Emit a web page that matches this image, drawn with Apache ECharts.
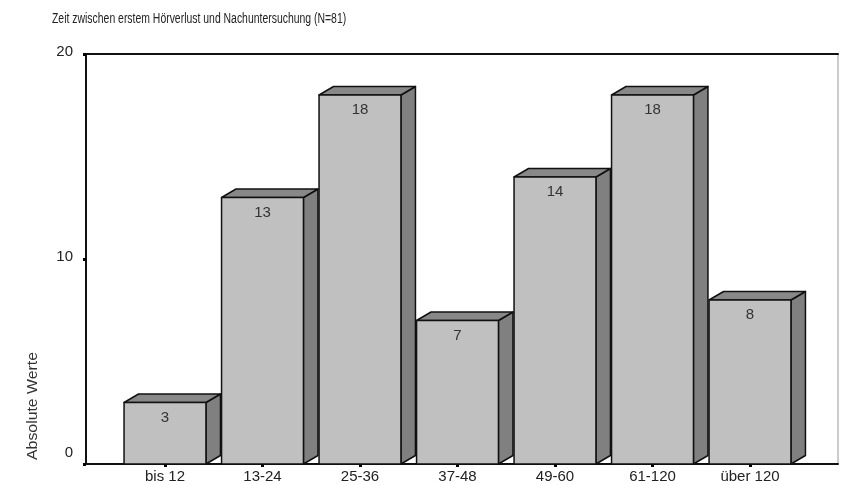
<!DOCTYPE html>
<html><head><meta charset="utf-8">
<script src="https://cdn.jsdelivr.net/npm/echarts@6/dist/echarts.min.js"></script>
<style>html,body{margin:0;padding:0;background:#fff}#c{width:844px;height:485px}</style>
</head><body><div id="c"></div>
<script>
const titleText = 'Zeit zwischen erstem Hörverlust und Nachuntersuchung (N=81)';
const yAxisTitle = 'Absolute Werte';
const categories = ['bis 12', '13-24', '25-36', '37-48', '49-60', '61-120', 'über 120'];
const values = [3, 13, 18, 7, 14, 18, 8];
const yMin = 0, yMax = 20, yInterval = 10;

const FONT = '"Liberation Sans", Arial, Helvetica, sans-serif';
const chart = echarts.init(document.getElementById('c'));
const DX = 14.5, DY = 8.5;

chart.setOption({
  animation: false,
  backgroundColor: '#fff',
  graphic: [
    { type: 'text', x: 52, y: 19, scaleX: 0.745,
      style: { text: titleText, font: '14px ' + FONT, fill: '#222', textAlign: 'left', textVerticalAlign: 'middle' } },
    { type: 'text', x: 33, y: 406, rotation: Math.PI / 2, scaleX: 1.13,
      style: { text: yAxisTitle, font: '14px ' + FONT, fill: '#333', textAlign: 'center', textVerticalAlign: 'middle' } }
  ],
  grid: [
    { left: 86, top: 54, width: 752, height: 410, show: true, borderColor: '#999', borderWidth: 1, backgroundColor: 'transparent' },
    { left: 116.25, top: 54, width: 682.5, height: 410 }
  ],
  xAxis: [
    { gridIndex: 0, type: 'value', min: 0, max: 1, position: 'bottom',
      axisLine: { show: true, lineStyle: { color: '#111', width: 2 } },
      axisTick: { show: false }, axisLabel: { show: false }, splitLine: { show: false } },
    { gridIndex: 0, type: 'value', min: 0, max: 1, position: 'top',
      axisLine: { show: true, lineStyle: { color: '#111', width: 2 } },
      axisTick: { show: false }, axisLabel: { show: false }, splitLine: { show: false } },
    { gridIndex: 1, type: 'category', data: categories, position: 'bottom',
      axisLine: { show: false },
      axisTick: { show: true, alignWithLabel: true, length: 3, lineStyle: { color: '#000', width: 3 } },
      axisLabel: { fontFamily: FONT, fontSize: 15, color: '#222', margin: 5 },
      splitLine: { show: false } }
  ],
  yAxis: [
    { gridIndex: 0, type: 'value', min: yMin, max: yMax, interval: yInterval,
      axisLine: { show: true, lineStyle: { color: '#111', width: 2 } },
      axisTick: { show: true, length: 3, lineStyle: { color: '#000', width: 3 } },
      axisLabel: { color: '#222', margin: 13,
        formatter: v => v === 0 ? '{z|0}' : '{n|' + v + '}',
        rich: { z: { fontFamily: FONT, fontSize: 15, color: '#222', padding: [0, 0, 22, 0] },
                n: { fontFamily: FONT, fontSize: 15, color: '#222', padding: [0, 0, 5, 0] } } },
      splitLine: { show: false } },
    { gridIndex: 1, type: 'value', min: yMin, max: yMax, interval: yInterval, show: false }
  ],
  series: [{
    type: 'custom', xAxisIndex: 2, yAxisIndex: 1,
    data: values.map((v, i) => [i, v]),
    renderItem: function (params, api) {
      const idx = api.value(0), v = api.value(1);
      const p = api.coord([idx, v]);
      const p0 = api.coord([idx, 0]);
      const band = api.size([1, 0])[0];
      const hw = band * 0.42;
      const x0 = p[0] - hw, x1 = p[0] + hw, yt = p[1], yb = p0[1];
      const stroke = { stroke: '#111', lineWidth: 1.5, lineJoin: 'round' };
      return {
        type: 'group',
        children: [
          { type: 'polygon', shape: { points: [[x1, yt], [x1 + DX, yt - DY], [x1 + DX, yb - DY], [x1, yb]] },
            style: Object.assign({ fill: '#808080' }, stroke) },
          { type: 'polygon', shape: { points: [[x0, yt], [x0 + DX, yt - DY], [x1 + DX, yt - DY], [x1, yt]] },
            style: Object.assign({ fill: '#888888' }, stroke) },
          { type: 'rect', shape: { x: x0, y: yt, width: x1 - x0, height: yb - yt },
            style: Object.assign({ fill: '#c0c0c0' }, stroke) },
          { type: 'text', x: p[0], y: yt + 15,
            style: { text: String(v), font: '15px ' + FONT, fill: '#333', textAlign: 'center', textVerticalAlign: 'middle' } }
        ]
      };
    }
  }]
});
</script></body></html>
